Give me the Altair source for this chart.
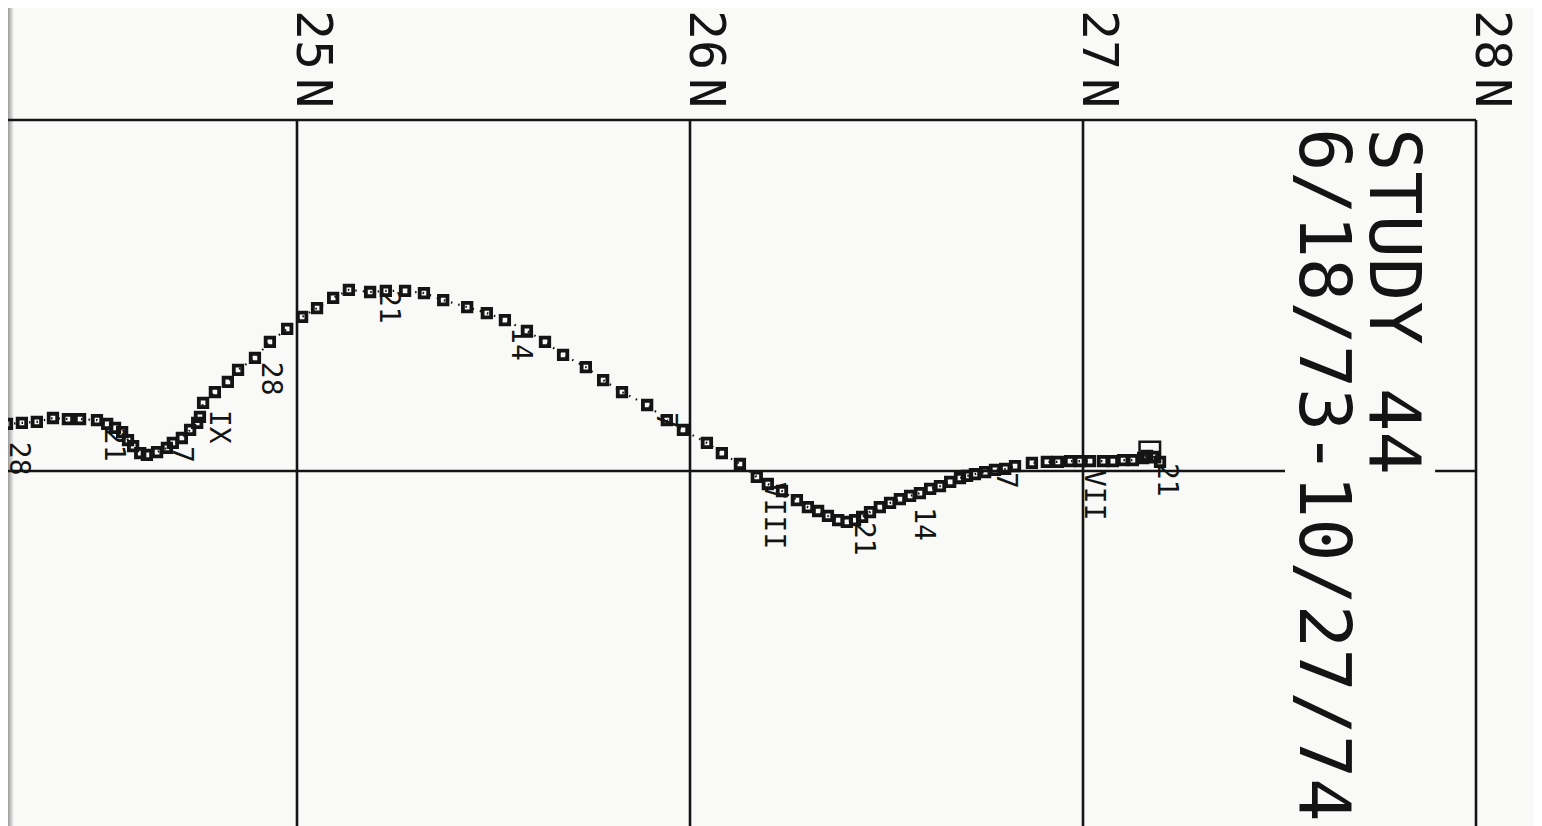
import altair as alt
import pandas as pd

# ---------------- data ----------------
lat_ticks = [25, 26, 27, 28]
tick_num = ["25", "26", "27", "28"]
tick_hemi = ["N", "N", "N", "N"]

# daily drifter fixes (latitude N, longitude offset in degrees from the plotted meridian)
track_lat = [27.196, 27.178, 27.163, 27.153, 27.127, 27.102, 27.076, 27.051, 27.018, 26.992,
             26.967, 26.936, 26.908, 26.870, 26.827, 26.802, 26.776, 26.751, 26.725, 26.705,
             26.687, 26.662, 26.636, 26.611, 26.585, 26.560, 26.534, 26.509, 26.483, 26.458,
             26.438, 26.420, 26.399, 26.377, 26.351, 26.326, 26.300, 26.272, 26.234, 26.198,
             26.170, 26.127, 26.081, 26.043, 25.982, 25.941, 25.891, 25.827, 25.779, 25.735,
             25.677, 25.631, 25.585, 25.529, 25.483, 25.433, 25.372, 25.323, 25.275, 25.226,
             25.186, 25.132, 25.092, 25.051, 25.013, 24.975, 24.931, 24.893, 24.850, 24.824,
             24.791, 24.761, 24.753, 24.746, 24.728, 24.707, 24.684, 24.669, 24.644, 24.618,
             24.601, 24.583, 24.570, 24.555, 24.537, 24.517, 24.491, 24.448, 24.417, 24.379,
             24.338, 24.300, 24.262]
track_dlon = [0.026, 0.040, 0.043, 0.037, 0.031, 0.031, 0.028, 0.028, 0.028, 0.028,
              0.028, 0.026, 0.026, 0.023, 0.014, 0.006, 0.003, -0.003, -0.009, -0.014,
              -0.020, -0.031, -0.043, -0.051, -0.063, -0.071, -0.080, -0.091, -0.103, -0.117,
              -0.131, -0.140, -0.145, -0.140, -0.128, -0.114, -0.103, -0.083, -0.057, -0.037,
              -0.017, 0.020, 0.051, 0.080, 0.117, 0.145, 0.188, 0.225, 0.259, 0.296,
              0.331, 0.368, 0.399, 0.430, 0.450, 0.467, 0.487, 0.507, 0.513, 0.513,
              0.510, 0.516, 0.493, 0.464, 0.439, 0.405, 0.368, 0.322, 0.288, 0.254,
              0.225, 0.194, 0.154, 0.137, 0.117, 0.094, 0.080, 0.066, 0.054, 0.046,
              0.051, 0.071, 0.088, 0.111, 0.123, 0.134, 0.145, 0.148, 0.148, 0.151,
              0.140, 0.137, 0.134]

start_lat = [27.170]
start_dlon = [0.054]

# date annotations along the track (day of month / roman month)
label_text = ["21", "VII", "7", "14", "21", "VIII", "7", "14", "21", "28", "IX", "7", "21", "28"]
label_lat = [27.191, 27.005, 26.781, 26.573, 26.420, 26.191, 25.916, 25.547, 25.211, 24.911,
             24.779, 24.684, 24.511, 24.270]
label_dlon = [0.023, 0.003, -0.003, -0.103, -0.145, -0.031, 0.168, 0.410, 0.516, 0.311,
              0.174, 0.071, 0.123, 0.083]

title_lines = ["STUDY 44", "6/18/73-10/27/74"]

# frame / graticule
lat_min, lat_max = 24.2646, 28.0
dlon_min, dlon_max = -1.0114, 1.0
meridian_from = [24.262, 27.896]
meridian_to = [27.514, 28.0]

INK = "#141414"
BG = "#f9f9f7"
FONT = "DejaVu Sans Mono"

xs = alt.Scale(domain=[lat_min, lat_max], nice=False, zero=False)
ys = alt.Scale(domain=[dlon_min, dlon_max], nice=False, zero=False)

track = pd.DataFrame({"lat": track_lat, "dlon": track_dlon, "i": list(range(len(track_lat)))})
labels = pd.DataFrame({"t": label_text, "lat": label_lat, "dlon": label_dlon})
start = pd.DataFrame({"lat": start_lat, "dlon": start_dlon})
grid = pd.DataFrame({"lat": lat_ticks, "num": tick_num, "hemi": tick_hemi,
                     "y1": [dlon_min] * 4, "y2": [dlon_max] * 4})
merid = pd.DataFrame({"lat": meridian_from, "lat2": meridian_to, "dlon": [0.0, 0.0]})
top = pd.DataFrame({"lat": [24.262], "lat2": [lat_max], "dlon": [dlon_max]})

edge = alt.Chart(pd.DataFrame({"a": [0]})).mark_rect(
    color=alt.LinearGradient(gradient="linear", x1=0, x2=1, y1=0, y2=0,
                             stops=[alt.GradientStop(color="#9a9a9a", offset=0),
                                    alt.GradientStop(color=BG, offset=1)])
).encode(x=alt.value(0), x2=alt.value(6), y=alt.value(-112), y2=alt.value(706))

vlines = alt.Chart(grid).mark_rule(color=INK, strokeWidth=2.6).encode(
    x=alt.X("lat:Q", scale=xs, axis=None),
    y=alt.Y("y1:Q", scale=ys, axis=None), y2="y2:Q")

hline = alt.Chart(merid).mark_rule(color=INK, strokeWidth=2.6).encode(
    x=alt.X("lat:Q", scale=xs, axis=None), x2="lat2:Q",
    y=alt.Y("dlon:Q", scale=ys, axis=None))

topline = alt.Chart(top).mark_rule(color=INK, strokeWidth=2.6).encode(
    x=alt.X("lat:Q", scale=xs, axis=None), x2="lat2:Q",
    y=alt.Y("dlon:Q", scale=ys, axis=None))

ticknum = alt.Chart(grid).mark_text(
    angle=90, align="left", baseline="alphabetic", font=FONT, fontSize=50, color=INK
).encode(x=alt.X("lat:Q", scale=xs, axis=None), y=alt.value(-110), text="num:N")

tickhemi = alt.Chart(grid).mark_text(
    angle=90, align="left", baseline="alphabetic", font=FONT, fontSize=50, color=INK
).encode(x=alt.X("lat:Q", scale=xs, axis=None), y=alt.value(-42), text="hemi:N")

path = alt.Chart(track).mark_line(
    color=INK, strokeWidth=2.2, strokeDash=[1.5, 6]
).encode(x=alt.X("lat:Q", scale=xs, axis=None),
         y=alt.Y("dlon:Q", scale=ys, axis=None), order="i:Q")

pts = alt.Chart(track).mark_point(
    shape="square", filled=False, strokeWidth=3.8, size=72, color=INK, opacity=1
).encode(x=alt.X("lat:Q", scale=xs, axis=None),
         y=alt.Y("dlon:Q", scale=ys, axis=None))

startpt = alt.Chart(start).mark_point(
    shape="square", filled=False, strokeWidth=2.5, size=420, color=INK, opacity=1
).encode(x=alt.X("lat:Q", scale=xs, axis=None),
         y=alt.Y("dlon:Q", scale=ys, axis=None))

lbl = alt.Chart(labels).mark_text(
    angle=90, align="left", baseline="alphabetic", font=FONT, fontSize=28, color=INK
).encode(x=alt.X("lat:Q", scale=xs, axis=None),
         y=alt.Y("dlon:Q", scale=ys, axis=None), text="t:N")

title1 = alt.Chart(pd.DataFrame({"t": [title_lines[0]]})).mark_text(
    angle=90, align="left", baseline="alphabetic", font=FONT, fontSize=72, color=INK
).encode(x=alt.value(1362), y=alt.value(8), text="t:N")

title2 = alt.Chart(pd.DataFrame({"t": [title_lines[1]]})).mark_text(
    angle=90, align="left", baseline="alphabetic", font=FONT, fontSize=72, color=INK
).encode(x=alt.value(1292), y=alt.value(8), text="t:N")

chart = alt.layer(
    edge, vlines, hline, topline, ticknum, tickhemi, path, pts, startpt, lbl, title1, title2
).properties(
    width=1468, height=706,
    padding={"left": 0, "top": 112, "right": 58, "bottom": 0},
    autosize=alt.AutoSizeParams(type="none"),
    background=BG,
).configure_view(strokeWidth=0)

chart.save("out.html", embed_options={"renderer": "svg", "actions": False})
